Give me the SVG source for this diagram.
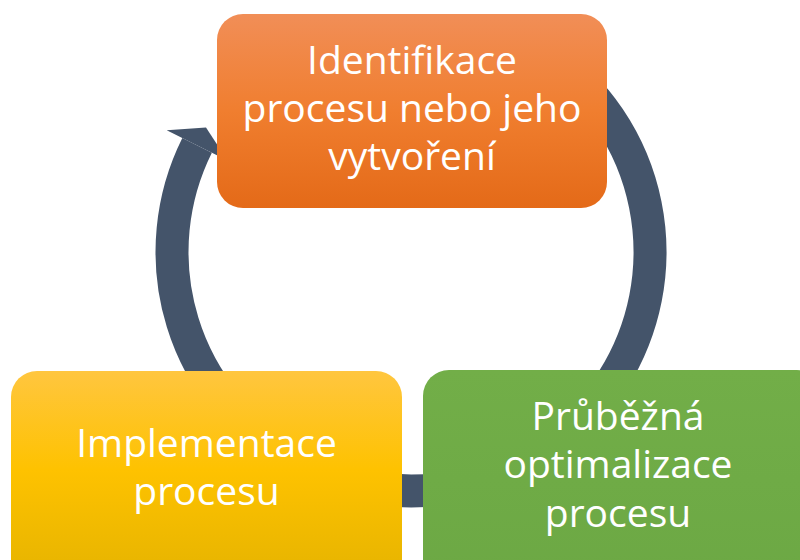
<svg xmlns="http://www.w3.org/2000/svg" width="800" height="560" viewBox="0 0 800 560">
<defs>
<linearGradient id="gOrange" x1="0" y1="0" x2="0" y2="1">
<stop offset="0" stop-color="#F18E57"/>
<stop offset="0.5" stop-color="#F07E2F"/>
<stop offset="1" stop-color="#E46A18"/>
</linearGradient>
<linearGradient id="gYellow" x1="0" y1="0" x2="0" y2="1">
<stop offset="0" stop-color="#FFC63F"/>
<stop offset="0.45" stop-color="#FEC200"/>
<stop offset="1" stop-color="#E3B200"/>
</linearGradient>
<linearGradient id="gGreen" x1="0" y1="0" x2="0" y2="1">
<stop offset="0" stop-color="#72AE48"/>
<stop offset="1" stop-color="#6CA844"/>
</linearGradient>
<style>
.lbl{font-family:"Open Sans","Noto Sans","DejaVu Sans",sans-serif;font-size:39px;fill:#FFFFFF;text-anchor:middle}
.ring{fill:none;stroke:#44546A;stroke-width:33}
.head{fill:#44546A}
</style>
</defs>
<rect width="800" height="560" fill="#FFFFFF"/>
<g id="connectors">
<path class="ring" d="M548.1,56.2 A239,239 0 1 1 197.1,145.4"/>
<polygon class="head" points="206,127.5 166.7,130.2 227.5,160.6"/>
</g>
<g id="node-identifikace">
<rect x="217" y="14" width="390" height="194" rx="26" fill="url(#gOrange)"/>
<text class="lbl" x="412" y="74">Identifikace</text>
<text class="lbl" x="412" y="122">procesu nebo jeho</text>
<text class="lbl" x="412" y="170">vytvoření</text>
</g>
<g id="node-implementace">
<rect x="11" y="371" width="391" height="220" rx="26" fill="url(#gYellow)"/>
<text class="lbl" x="206.5" y="457">Implementace</text>
<text class="lbl" x="206.5" y="505">procesu</text>
</g>
<g id="node-optimalizace">
<rect x="423" y="370" width="400" height="220" rx="26" fill="url(#gGreen)"/>
<text class="lbl" x="618" y="430">Průběžná</text>
<text class="lbl" x="618" y="478">optimalizace</text>
<text class="lbl" x="618" y="527">procesu</text>
</g>
</svg>
